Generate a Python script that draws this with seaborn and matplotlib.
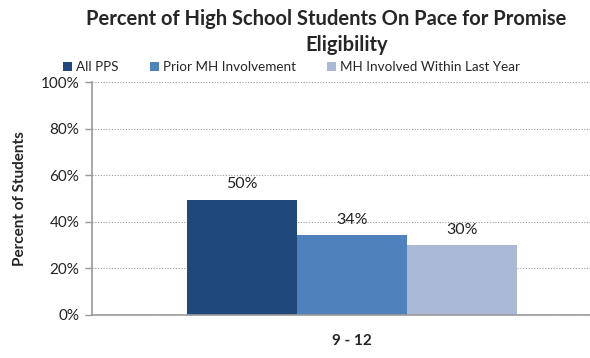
import matplotlib
matplotlib.use("Agg")
import matplotlib.pyplot as plt
import seaborn as sns
import pandas as pd
from matplotlib.patches import Patch

categories = ["9 - 12"]
series = ["All PPS", "Prior MH Involvement", "MH Involved Within Last Year"]
values = [49.5, 34.3, 30.0]
labels = ["50%", "34%", "30%"]
colors = ["#1F497D", "#4F81BD", "#AAB9D6"]
yticks = [0, 20, 40, 60, 80, 100]
ytick_labels = ["0%", "20%", "40%", "60%", "80%", "100%"]

sns.set_theme(style="white")
plt.rcParams["font.family"] = ["Lato", "DejaVu Sans"]

df = pd.DataFrame({"cat": categories * len(series), "series": series, "value": values})

fig = plt.figure(figsize=(5.9, 3.58), dpi=100)
W, H = 590, 358
x0, x1, ytop, ybot = 92, 612, 82, 315
ax = fig.add_axes([x0 / W, 1 - ybot / H, (x1 - x0) / W, (ybot - ytop) / H])

sns.barplot(data=df, x="cat", y="value", hue="series", palette=colors,
            width=0.635, saturation=1, ax=ax, legend=False, linewidth=0)

for c, lab in zip(ax.containers, labels):
    ax.bar_label(c, labels=[lab], padding=6, fontsize=11.5, color="#222222")

ax.set_xlim(-0.5, 0.5)
ax.set_ylim(0, 100)
ax.set_yticks(yticks)
ax.set_yticklabels(ytick_labels, fontsize=11, color="#222222")
ax.yaxis.grid(True, linestyle=(0, (1, 1.5)), color="#999999", linewidth=0.8)
ax.set_axisbelow(True)
ax.tick_params(axis="y", direction="out", length=5, color="#999999", width=1, left=True, pad=4)
ax.tick_params(axis="x", length=0, pad=14)
for lab in ax.get_xticklabels():
    lab.set_fontweight("bold")
    lab.set_fontsize(11)
for s in ["top", "right"]:
    ax.spines[s].set_visible(False)
for s in ["left", "bottom"]:
    ax.spines[s].set_color("#999999")
    ax.spines[s].set_linewidth(1.2)
ax.set_xlabel("")
ax.set_ylabel("Percent of Students", fontsize=11, fontweight="bold", labelpad=10)

fig.text(86 / W, 1 - 19 / H, "Percent of High School Students On Pace for Promise",
         ha="left", va="center", fontsize=14.5, fontweight="bold")
fig.text(347 / W, 1 - 45 / H, "Eligibility",
         ha="center", va="center", fontsize=14.5, fontweight="bold")

handles = [Patch(facecolor=c, edgecolor="none") for c in colors]
fig.legend(handles, series, loc="center left", bbox_to_anchor=(63 / W, 1 - 67 / H),
           ncol=3, frameon=False, fontsize=9.7, handlelength=0.67, handleheight=0.67,
           handletextpad=0.3, columnspacing=2.3, borderaxespad=0, borderpad=0)

fig.savefig("out.png", dpi=100)
